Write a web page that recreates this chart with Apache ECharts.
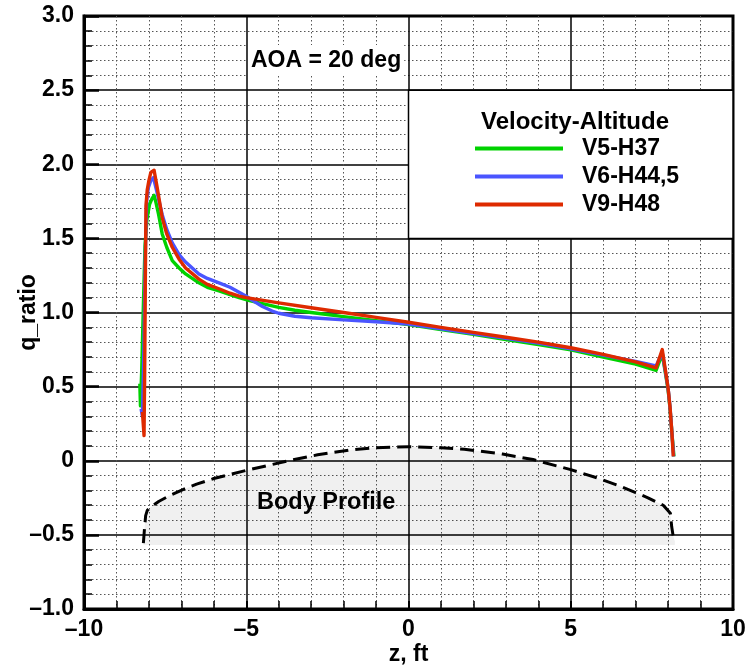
<!DOCTYPE html>
<html>
<head>
<meta charset="utf-8">
<script src="https://cdn.jsdelivr.net/npm/echarts@6/dist/echarts.min.js"></script>
<style>html,body{margin:0;padding:0;background:#fff;}#c{width:750px;height:668px;}</style>
</head>
<body>
<div id="c"></div>
<script>
// ---- data ----
const seriesNames = ['V5-H37', 'V6-H44,5', 'V9-H48'];
const seriesColors = ['#00d200', '#4a55ff', '#de2a00'];

const zGreen = [-8.28, -8.26, -8.22, -8.17, -8.12, -8.06, -7.98, -7.9, -7.84, -7.78, -7.7, -7.59, -7.45, -7.28, -7.07, -6.87, -6.46, -6.2, -5.84, -5.5, -5.22, -4.9, -4.5, -4.0, -3.5, -3.0, -2.0, -1.0, 0, 1, 2, 3, 4, 5, 6, 7, 7.63, 7.82, 8.0, 8.06, 8.12, 8.18];
const qGreen = [0.52, 0.37, 0.62, 1.05, 1.45, 1.63, 1.73, 1.77, 1.79, 1.74, 1.66, 1.53, 1.44, 1.35, 1.30, 1.26, 1.20, 1.17, 1.145, 1.12, 1.10, 1.08, 1.06, 1.035, 1.015, 1.0, 0.972, 0.945, 0.918, 0.885, 0.852, 0.818, 0.783, 0.748, 0.70, 0.652, 0.61, 0.72, 0.48, 0.35, 0.18, 0.03];

const zBlue = [-8.24, -8.2, -8.15, -8.11, -8.07, -8.02, -7.94, -7.86, -7.76, -7.59, -7.45, -7.28, -7.07, -6.87, -6.46, -6.2, -5.84, -5.5, -5.25, -5.0, -4.8, -4.5, -4.2, -4.0, -3.5, -3.0, -2.0, -1.0, 0, 1, 2, 3, 4, 5, 6, 7, 7.63, 7.82, 8.0, 8.06, 8.12, 8.17];
const qBlue = [0.35, 0.3, 0.8, 1.4, 1.75, 1.84, 1.89, 1.91, 1.82, 1.66, 1.56, 1.47, 1.39, 1.34, 1.26, 1.23, 1.20, 1.17, 1.14, 1.11, 1.08, 1.04, 1.01, 0.995, 0.975, 0.965, 0.95, 0.938, 0.922, 0.89, 0.858, 0.826, 0.794, 0.755, 0.712, 0.67, 0.64, 0.73, 0.49, 0.36, 0.18, 0.03];

const zRed = [-8.2, -8.15, -8.13, -8.11, -8.09, -8.05, -8.0, -7.94, -7.84, -7.75, -7.59, -7.45, -7.28, -7.07, -6.87, -6.46, -6.2, -5.84, -5.5, -5.22, -5.0, -4.0, -3.0, -2.0, -1.0, 0, 1, 2, 3, 4, 5, 6, 7, 7.63, 7.82, 8.0, 8.06, 8.12, 8.16];
const qRed = [0.33, 0.17, 0.6, 1.2, 1.72, 1.83, 1.89, 1.945, 1.96, 1.85, 1.64, 1.53, 1.44, 1.36, 1.30, 1.225, 1.19, 1.16, 1.13, 1.11, 1.10, 1.065, 1.032, 1.0, 0.967, 0.934, 0.90, 0.866, 0.833, 0.80, 0.762, 0.717, 0.667, 0.627, 0.75, 0.49, 0.36, 0.18, 0.03];

const zBody = [-8.17, -8.14, -8.1, -8.05, -7.95, -7.7, -7.36, -6.9, -6.53, -6.0, -5.0, -4.2, -3.58, -2.8, -1.82, -1.0, 0, 1.0, 1.72, 2.9, 3.84, 5.0, 5.8, 6.44, 7.0, 7.38, 7.85, 8.07, 8.11, 8.15, 8.21];
const qBody = [-0.556, -0.47, -0.37, -0.335, -0.313, -0.275, -0.235, -0.19, -0.158, -0.12, -0.065, -0.025, 0.005, 0.04, 0.072, 0.088, 0.095, 0.088, 0.078, 0.045, 0.008, -0.06, -0.115, -0.165, -0.215, -0.25, -0.3, -0.354, -0.444, -0.50, -0.545];
const bodyBase = -0.568;

const xTicks = [-10, -5, 0, 5, 10];
const xTickLabels = ['\u201310', '\u20135', '0', '5', '10'];
const yTicks = [-1.0, -0.5, 0, 0.5, 1.0, 1.5, 2.0, 2.5, 3.0];
const yTickLabels = ['\u20131.0', '\u20130.5', '0', '0.5', '1.0', '1.5', '2.0', '2.5', '3.0'];

const legendTitle = 'Velocity-Altitude';
const aoaText = 'AOA = 20 deg';
const bodyText = 'Body Profile';
const xName = 'z, ft';
const yName = 'q_ratio';

// ---- chart ----
const FONT = '"Liberation Sans", Arial, Helvetica, sans-serif';
const zip = (a, b) => a.map((v, i) => [v, b[i]]);
const lookup = (ticks, labels) => v => {
  const i = ticks.findIndex(t => Math.abs(t - v) < 1e-6);
  return i >= 0 ? labels[i] : '';
};

const chart = echarts.init(document.getElementById('c'), null, {renderer: 'canvas'});
const lineSeries = [[zGreen, qGreen], [zBlue, qBlue], [zRed, qRed]].map((d, i) => ({
  name: seriesNames[i],
  type: 'line',
  data: zip(d[0], d[1]),
  showSymbol: false,
  symbol: 'none',
  color: seriesColors[i],
  lineStyle: {color: seriesColors[i], width: 3.4, join: 'round'},
  z: 3 + i,
  animation: false
}));

chart.setOption({
  animation: false,
  backgroundColor: '#fff',
  textStyle: {fontFamily: FONT},
  grid: {left: 84, top: 16, width: 649, height: 593, containLabel: false, outerBoundsMode: 'none',
         show: true, borderColor: '#000', borderWidth: 3, backgroundColor: '#fff', z: 0},
  title: [
    {text: legendTitle, left: 570, top: 105, textAlign: 'center',
     textStyle: {fontFamily: FONT, fontSize: 24, fontWeight: 'bold', color: '#000'}},
    {text: aoaText, left: 248, top: 45, padding: [4, 3, 4, 3], backgroundColor: '#fff',
     textStyle: {fontFamily: FONT, fontSize: 23, fontWeight: 'bold', color: '#000'}},
    {text: bodyText, left: 257, top: 491, padding: 0,
     textStyle: {fontFamily: FONT, fontSize: 23.5, fontWeight: 'bold', color: '#000'}}
  ],
  legend: {
    data: seriesNames,
    orient: 'vertical',
    left: 475, top: 137,
    itemWidth: 88, itemHeight: 4, itemGap: 5,
    icon: 'rect',
    padding: 0,
    textStyle: {fontFamily: FONT, fontSize: 23, fontWeight: 'bold', color: '#000', lineHeight: 23, padding: [0, 0, 0, 14]},
    selectedMode: false
  },
  xAxis: {
    type: 'value', min: -10, max: 10, interval: 5,
    axisLine: {show: true, onZero: false, lineStyle: {color: '#000', width: 3}},
    axisTick: {show: true, inside: true, length: 8, lineStyle: {color: '#000', width: 2}},
    minorTick: {show: true, splitNumber: 5, length: 8, lineStyle: {color: '#000', width: 1.5}},
    splitLine: {show: true, lineStyle: {color: '#000', width: 1.5}},
    minorSplitLine: {show: true, lineStyle: {color: '#555', width: 1, type: [1.5, 2.5]}},
    axisLabel: {formatter: lookup(xTicks, xTickLabels), fontFamily: FONT, fontSize: 23, fontWeight: 'bold', color: '#000', margin: 9},
    name: xName, nameLocation: 'middle', nameGap: 34, nameMoveOverlap: false,
    nameTextStyle: {fontFamily: FONT, fontSize: 23, fontWeight: 'bold', color: '#000'}
  },
  yAxis: {
    type: 'value', min: -1, max: 3, interval: 0.5,
    axisLine: {show: true, onZero: false, lineStyle: {color: '#000', width: 3}},
    axisTick: {show: true, inside: true, length: 15, lineStyle: {color: '#000', width: 2.5}},
    minorTick: {show: true, splitNumber: 5, length: 8, lineStyle: {color: '#000', width: 1.5}},
    splitLine: {show: true, lineStyle: {color: '#000', width: 1.5}},
    minorSplitLine: {show: true, lineStyle: {color: '#555', width: 1, type: [1.5, 2.5]}},
    axisLabel: {formatter: lookup(yTicks, yTickLabels), fontFamily: FONT, fontSize: 23, fontWeight: 'bold', color: '#000', margin: 10},
    name: yName, nameLocation: 'middle', nameGap: 44, nameRotate: 90, nameMoveOverlap: false,
    nameTextStyle: {fontFamily: FONT, fontSize: 23, fontWeight: 'bold', color: '#000'}
  },
  series: [
    {
      name: 'body', type: 'line', data: zip(zBody, qBody),
      showSymbol: false, symbol: 'none', z: 2,
      lineStyle: {color: '#000', width: 3, type: [14, 7]},
      areaStyle: {color: 'rgba(0,0,0,0.085)', origin: bodyBase},
      markArea: {
        silent: true,
        itemStyle: {color: '#fff', borderColor: '#000', borderWidth: 1.5},
        data: [[{coord: [0, 2.5]}, {coord: [10, 1.5]}]]
      }
    },
    ...lineSeries
  ]
});
</script>
</body>
</html>
